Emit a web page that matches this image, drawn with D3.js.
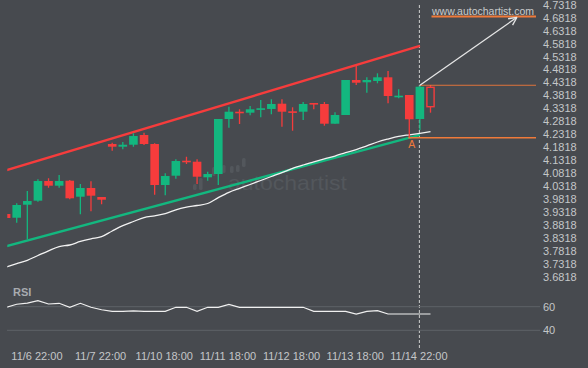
<!DOCTYPE html>
<html>
<head>
<meta charset="utf-8">
<script src="https://cdn.jsdelivr.net/npm/d3@7"></script>
<style>
  html, body { margin: 0; padding: 0; background: #474a4f; }
  svg { display: block; }
  text { font-family: "Liberation Sans", Arial, sans-serif; }
</style>
</head>
<body>
<svg id="chart" width="588" height="368"></svg>
<script>
// ---------- DATA ----------
const opens  = [3.9238,3.9095,3.9597,3.9752,4.0512,4.0331,4.0524,3.9906,4.0242,3.9894,
                4.1940,4.1836,4.1913,4.2288,4.1940,4.0358,4.0717,4.1296,4.1257,4.0655,
                4.0782,4.2906,4.3187,4.3149,4.3293,4.3293,4.3496,4.3203,4.3187,4.3523,
                4.3485,4.2724,4.3060,4.4411,4.4322,4.4373,4.4515,4.3755,4.3832,4.2906,4.4129];
const highs  = [3.9277,3.9651,4.0126,4.0578,4.0616,4.0744,4.0551,4.0396,4.0501,3.9894,
                4.1991,4.2018,4.2354,4.2377,4.1967,4.0809,4.1350,4.1450,4.1350,4.0871,
                4.2906,4.3380,4.3281,4.3407,4.3639,4.3666,4.3666,4.3357,4.3562,4.3523,
                4.3562,4.3164,4.4411,4.4963,4.4515,4.4670,4.4759,4.4052,4.3832,4.4191,4.4218];
const lows   = [3.9045,3.8902,3.8262,3.9713,4.0253,4.0253,3.9806,3.9227,3.9342,3.9613,
                4.1682,4.1736,4.1836,4.1902,3.9983,3.9960,4.0601,4.1168,4.0396,4.0524,
                4.0358,4.2570,4.2713,4.3048,4.2971,4.3087,4.2608,4.2454,4.2867,4.3281,
                4.2647,4.2724,4.3060,4.4218,4.3921,4.4284,4.3512,4.3705,4.2199,4.2481,4.3149];
const closes = [3.9084,3.9586,3.9740,4.0512,4.0331,4.0512,3.9844,4.0242,3.9945,3.9790,
                4.1836,4.1913,4.2249,4.1940,4.0358,4.0705,4.1284,4.1273,4.0678,4.0782,
                4.2906,4.3187,4.3149,4.3281,4.3320,4.3485,4.3187,4.3164,4.3485,4.3496,
                4.2724,4.3060,4.4411,4.4307,4.4411,4.4515,4.3793,4.3805,4.2894,4.4152,4.3380];
const movingAvg = [3.7192,3.7320,3.7451,3.7636,3.7818,3.7980,3.8042,3.8177,3.8281,3.8362,
                   3.8582,3.8791,3.8949,3.9099,3.9169,3.9254,3.9400,3.9500,3.9566,3.9644,
                   3.9871,4.0076,4.0230,4.0377,4.0532,4.0686,4.0836,4.0999,4.1130,4.1246,
                   4.1362,4.1477,4.1608,4.1728,4.1871,4.2018,4.2133,4.2234,4.2296,4.2353,4.2415];
const rsi = [59.3,62.1,63.0,65.1,62.3,62.9,59.5,62.9,59.5,57.4,
             56.1,56.1,56.5,56.1,56.1,56.1,59.5,59.5,56.1,59.5,
             59.5,62.0,59.5,59.5,59.5,59.5,59.5,59.5,59.5,56.1,
             56.1,56.1,56.1,53.8,56.1,56.6,53.8,53.8,53.8,53.8,53.8];
const timeTickIndex  = [3, 9, 15, 21, 27, 33, 39];
const timeTickLabels = ["11/6 22:00","11/7 22:00","11/10 18:00","11/11 18:00","11/12 18:00","11/13 18:00","11/14 22:00"];
const priceTicks = d3.range(22).map(i => +(3.6818 + i * 0.05).toFixed(4));
const rsiTicks = [60, 40];
// channel lines: [index, price]
const upperLine = [[0, 4.0923], [39, 4.5731]];
const lowerLine = [[0, 3.7991], [39, 4.2296]];
// pattern levels
const targetLevel = 4.6862;
const breakoutLevel = 4.4206;
const supportLevel = 4.2184;
const lastIndex = 39;      // dashed line / breakout candle
const pointAIndex = 38;
const arrowEnd = [48.15, 4.6832];

// ---------- SCALES ----------
const W = 588, H = 368;
const svg = d3.select("#chart");
const x = d3.scaleLinear().domain([0, 40]).range([6.1, 430.5]);
const y = d3.scaleLinear().domain([3.6818, 4.7318]).range([276.7, 4.7]);
const yr = d3.scaleLinear().domain([40, 60]).range([330.3, 306.7]);

const GREEN = "#13b77f", RED = "#f63c3c", ORANGE = "#f07a3a";

svg.append("rect").attr("width", W).attr("height", H).attr("fill", "#474a4f");

const defs = svg.append("defs");
defs.append("clipPath").attr("id", "plot")
  .append("rect").attr("x", 7.3).attr("y", 0).attr("width", 533).attr("height", 285);
defs.append("clipPath").attr("id", "rsiclip")
  .append("rect").attr("x", 7.3).attr("y", 285).attr("width", 533).attr("height", 60);

// ---------- WATERMARK ----------
const wm = svg.append("g").attr("fill", "#53575c");
const logoBars = [[193,184,190],[199,178,190],[212,167,176],[222,165,173],[230,166,173],[236,165,172],[242,158,167]];
logoBars.forEach(b => wm.append("rect").attr("x", b[0]).attr("y", b[1]).attr("width", 3.6)
  .attr("height", b[2]-b[1]).attr("rx", 1.5));
wm.append("text").attr("x", 228).attr("y", 190).attr("font-size", 21)
  .attr("font-family", "Lato, sans-serif").attr("font-weight", 300)
  .attr("textLength", 119).attr("lengthAdjust", "spacingAndGlyphs")
  .text("autochartist");

// dashed vertical line (behind candles)
svg.append("line").attr("x1", x(lastIndex) - 0.5).attr("x2", x(lastIndex) - 0.5)
  .attr("y1", 5).attr("y2", 350)
  .attr("stroke", "#cfcfcf").attr("stroke-width", 1).attr("stroke-dasharray", "3,2");

const plot = svg.append("g").attr("clip-path", "url(#plot)");

// ---------- CHANNEL ----------
const lineGen = d3.line().x(d => x(d[0])).y(d => y(d[1]));
plot.append("path").datum(upperLine).attr("d", lineGen)
  .attr("stroke", RED).attr("stroke-width", 2.4).attr("fill", "none");
plot.append("path").datum(lowerLine).attr("d", lineGen)
  .attr("stroke", GREEN).attr("stroke-width", 2.4).attr("fill", "none");

// ---------- MOVING AVERAGE ----------
plot.append("path").datum(movingAvg)
  .attr("d", d3.line().x((d, i) => x(i)).y(d => y(d)).curve(d3.curveMonotoneX))
  .attr("stroke", "#f2f2f2").attr("stroke-width", 1.3).attr("fill", "none");

// ---------- CANDLES ----------
const bw = 8.6;
const candles = opens.map((o, i) => ({ i, o, h: highs[i], l: lows[i], c: closes[i] }));
const cg = plot.append("g");
candles.forEach(d => {
  const up = d.c >= d.o;
  const col = up ? GREEN : RED;
  const top = y(Math.max(d.o, d.c)), bot = y(Math.min(d.o, d.c));
  const bh = Math.max(bot - top, 1.6);
  const cx = x(d.i);
  if (d.i === 40) {
    cg.append("line").attr("x1", cx).attr("x2", cx).attr("y1", y(d.h)).attr("y2", top)
      .attr("stroke", col).attr("stroke-width", 1.3);
    cg.append("line").attr("x1", cx).attr("x2", cx).attr("y1", top + bh).attr("y2", y(d.l))
      .attr("stroke", col).attr("stroke-width", 1.3);
    cg.append("rect").attr("x", cx - bw/2 + 0.7).attr("y", top).attr("width", bw - 1.4).attr("height", bh)
      .attr("fill", "none").attr("stroke", col).attr("stroke-width", 1.4);
  } else {
    cg.append("line").attr("x1", cx).attr("x2", cx).attr("y1", y(d.h)).attr("y2", y(d.l))
      .attr("stroke", col).attr("stroke-width", 1.3);
    cg.append("rect").attr("x", cx - bw/2).attr("y", top).attr("width", bw).attr("height", bh)
      .attr("fill", col);
  }
});

// ---------- PATTERN LEVELS ----------
const xEnd = 536;
svg.append("line").attr("x1", x(pointAIndex) - 1).attr("x2", xEnd)
  .attr("y1", y(supportLevel)).attr("y2", y(supportLevel))
  .attr("stroke", ORANGE).attr("stroke-width", 1.4);
svg.append("line").attr("x1", x(lastIndex)).attr("x2", xEnd)
  .attr("y1", y(breakoutLevel)).attr("y2", y(breakoutLevel))
  .attr("stroke", ORANGE).attr("stroke-width", 1.1).attr("opacity", 0.9);
svg.append("line").attr("x1", 431.5).attr("x2", xEnd)
  .attr("y1", y(targetLevel)).attr("y2", y(targetLevel))
  .attr("stroke", ORANGE).attr("stroke-width", 1.8);

// arrow
const ax1 = x(lastIndex), ay1 = y(breakoutLevel), ax2 = x(arrowEnd[0]), ay2 = y(arrowEnd[1]);
svg.append("line").attr("x1", ax1).attr("y1", ay1).attr("x2", ax2).attr("y2", ay2)
  .attr("stroke", "#e6e6e6").attr("stroke-width", 1.3);
const ang = Math.atan2(ay2 - ay1, ax2 - ax1);
[-0.45, 0.45].forEach(da => {
  svg.append("line").attr("x1", ax2).attr("y1", ay2)
    .attr("x2", ax2 - 9 * Math.cos(ang + da)).attr("y2", ay2 - 9 * Math.sin(ang + da))
    .attr("stroke", "#e6e6e6").attr("stroke-width", 1.3);
});

svg.append("text").attr("x", 432).attr("y", 14.5).attr("font-size", 10.5)
  .attr("fill", "#c9cacc").attr("textLength", 102).attr("lengthAdjust", "spacing")
  .text("www.autochartist.com");

svg.append("text").attr("x", x(pointAIndex) + 2.5).attr("y", 148).attr("font-size", 10.5)
  .attr("text-anchor", "middle").attr("fill", ORANGE).text("A");

// ---------- PRICE AXIS ----------
const yAxis = d3.axisRight(y).tickValues(priceTicks).tickSize(0).tickPadding(0)
  .tickFormat(d3.format(".4f"));
const ya = svg.append("g").attr("transform", "translate(543,0)").call(yAxis);
ya.select(".domain").remove();
ya.selectAll("text").attr("font-size", 11).attr("fill", "#c4c6c8")
  .attr("font-family", "Liberation Sans, Arial, sans-serif");

// ---------- RSI PANEL ----------
rsiTicks.forEach(t => {
  svg.append("line").attr("x1", 7).attr("x2", 540).attr("y1", yr(t)).attr("y2", yr(t))
    .attr("stroke", "#5e6267").attr("stroke-width", 1);
});
const ra = svg.append("g").attr("transform", "translate(543,0)")
  .call(d3.axisRight(yr).tickValues(rsiTicks).tickSize(0).tickPadding(0));
ra.select(".domain").remove();
ra.selectAll("text").attr("font-size", 11).attr("fill", "#c4c6c8")
  .attr("font-family", "Liberation Sans, Arial, sans-serif");

svg.append("path").datum(rsi)
  .attr("d", d3.line().x((d, i) => x(i)).y(d => yr(d)))
  .attr("clip-path", "url(#rsiclip)")
  .attr("stroke", "#f0f0f0").attr("stroke-width", 1.2).attr("fill", "none");

svg.append("text").attr("x", 13).attr("y", 295.5).attr("font-size", 11).attr("font-weight", "bold")
  .attr("fill", "#a8abaf").text("RSI");

// ---------- TIME AXIS ----------
const xAxis = d3.axisBottom(x).tickValues(timeTickIndex).tickSize(0).tickPadding(0)
  .tickFormat((d, i) => timeTickLabels[i]);
const xa = svg.append("g").attr("transform", "translate(-1.5,352)").call(xAxis);
xa.select(".domain").remove();
xa.selectAll("text").attr("font-size", 11).attr("fill", "#c4c6c8")
  .attr("font-family", "Liberation Sans, Arial, sans-serif");
</script>
</body>
</html>
